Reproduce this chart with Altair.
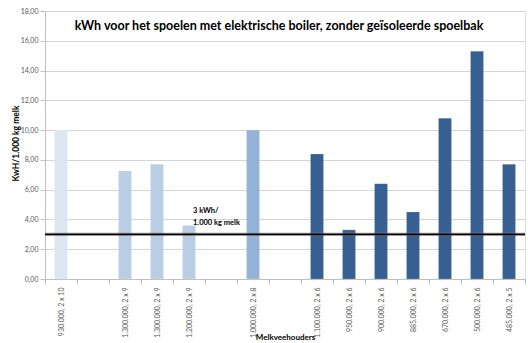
import altair as alt
import pandas as pd

# Slot order along the x axis; blank slots separate the groups of farms.
# A zero-width space keeps the two identical 1.300.000 labels distinct.
slots = [
    "930.000, 2 x 10", " ",
    "1.300.000, 2 x 9", "1.300.000, 2 x 9\u200b", "1.200.000, 2 x 9", "  ",
    "1.000.000, 2 x 8", "   ",
    "1.100.000, 2 x 6", "950.000, 2 x 6", "900.000, 2 x 6", "885.000, 2 x 6",
    "670.000, 2 x 6", "500.000, 2 x 6", "485.000, 2 x 5",
]
farms = [
    "930.000, 2 x 10",
    "1.300.000, 2 x 9", "1.300.000, 2 x 9\u200b", "1.200.000, 2 x 9",
    "1.000.000, 2 x 8",
    "1.100.000, 2 x 6", "950.000, 2 x 6", "900.000, 2 x 6", "885.000, 2 x 6",
    "670.000, 2 x 6", "500.000, 2 x 6", "485.000, 2 x 5",
]
kwh = [10.0, 7.25, 7.7, 3.6, 10.0, 8.4, 3.3, 6.4, 4.5, 10.8, 15.3, 7.7]
group = ["g1", "g2", "g2", "g2", "g3", "g4", "g4", "g4", "g4", "g4", "g4", "g4"]
group_colors = ["#dce6f2", "#b9cde5", "#95b3d7", "#376092"]
y_ticks = [0, 2, 4, 6, 8, 10, 12, 14, 16, 18]
norm = 3.0

df = pd.DataFrame({"farm": farms, "kwh": kwh, "group": group})

FONT = "Lato"

x_enc = alt.X(
    "farm:N",
    sort=slots,
    scale=alt.Scale(domain=slots, paddingInner=0, paddingOuter=0),
    axis=alt.Axis(
        title="Melkveehouders",
        titleFont=FONT, titleFontSize=8, titleFontWeight="bold", titleColor="#000000",
        titleY=58, titleBaseline="middle",
        labelFont=FONT, labelFontSize=7, labelColor="#595959",
        labelAngle=270, labelAlign="right", labelBaseline="middle", labelPadding=3,
        tickBand="extent", tickSize=5, tickColor="#bfbfbf",
        domainColor="#bfbfbf", grid=False,
    ),
)
y_scale = alt.Scale(domain=[0, 18], nice=False)
y_enc = alt.Y(
    "kwh:Q",
    scale=y_scale,
    axis=alt.Axis(
        title="KwH/1.000 kg melk",
        titleFont=FONT, titleFontSize=8.5, titleFontWeight="bold", titleColor="#000000",
        titleX=-30, titleY=132, titleAngle=270, titleBaseline="middle", titleAlign="center",
        values=y_ticks, tickCount=len(y_ticks) + 2, labelOverlap=False,
        labelExpr="replace(format(datum.value, '.2f'), '.', ',')",
        labelFont=FONT, labelFontSize=7, labelColor="#595959", labelPadding=2,
        tickSize=5, tickColor="#bfbfbf", domainColor="#bfbfbf",
        gridColor="#d4d4d4", gridWidth=1,
    ),
)

bars = alt.Chart(df).mark_bar(size=13, strokeWidth=0.6, stroke="#ffffff", strokeOpacity=0.25).encode(
    x=x_enc,
    y=y_enc,
    color=alt.Color("group:N", scale=alt.Scale(domain=["g1", "g2", "g3", "g4"], range=group_colors), legend=None),
)

# Norm line at 3 kWh per 1.000 kg milk, with a soft grey shadow
norm_df = pd.DataFrame({"y": [norm]})
halo = alt.Chart(norm_df).mark_rule(color="#8c8c8c", strokeWidth=3.5, opacity=0.45).encode(y="y:Q")
rule = alt.Chart(norm_df).mark_rule(color="#000000", strokeWidth=1.6).encode(y="y:Q")

note_df = pd.DataFrame({"farm": ["1.200.000, 2 x 9"], "y": [norm]})
note = alt.Chart(note_df).mark_text(
    text=["3 kWh/", "1.000 kg melk"], font=FONT, fontSize=7.5, fontWeight="bold",
    align="left", baseline="bottom", dx=4, dy=-19, lineHeight=12, color="#000000",
).encode(x=alt.X("farm:N", sort=slots), y="y:Q")

title = alt.Chart(norm_df).mark_text(
    font=FONT, fontSize=12.5, fontWeight="bold", color="#000000", align="center", baseline="middle",
).encode(
    x=alt.value(234), y=alt.value(15),
    text=alt.value("kWh voor het spoelen met elektrische boiler, zonder geïsoleerde spoelbak"),
)

chart = alt.layer(bars, halo, rule, note, title).properties(
    width=480, height=268,
    autosize=alt.AutoSizeParams(type="none"),
    padding={"left": 45, "top": 11, "right": 3, "bottom": 64},
).configure_view(stroke=None).configure(background="#ffffff")

chart.save("out.html", embed_options={"renderer": "svg", "actions": False})
